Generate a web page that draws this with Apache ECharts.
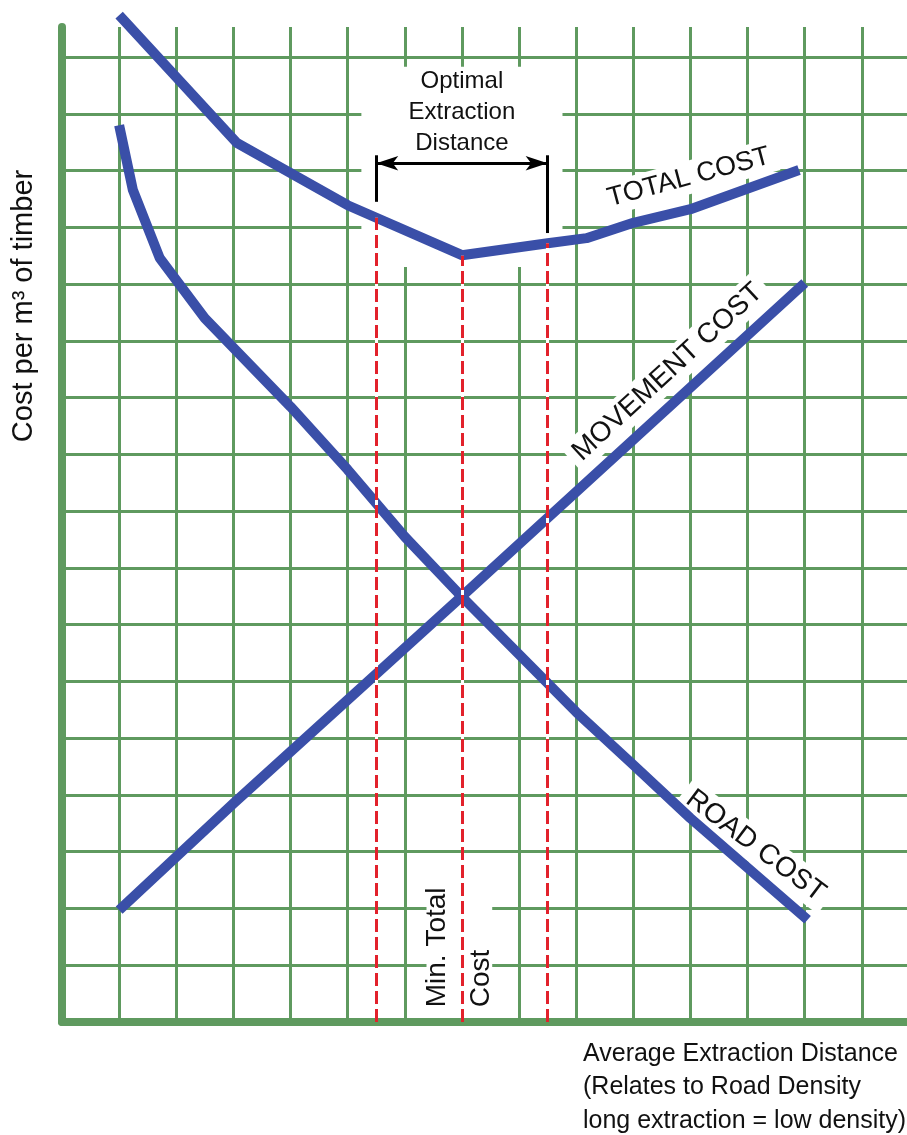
<!DOCTYPE html>
<html>
<head>
<meta charset="utf-8">
<title>Optimal extraction distance</title>
<script src="https://cdn.jsdelivr.net/npm/echarts@6/dist/echarts.min.js"></script>
<style>
  html, body { margin: 0; padding: 0; background: #fff; }
  #chart { width: 907px; height: 1135px; }
</style>
</head>
<body>
<div id="chart"></div>
<script>
// values, in grid squares (x = distance, y = cost)
const totalX = [1.0, 3.06, 5.0, 7.0, 8.5, 9.18, 10.0, 11.0, 12.9];
const totalY = [17.74, 15.49, 14.39, 13.51, 13.72, 13.81, 14.08, 14.32, 15.01];
const roadX = [1.0, 1.24, 1.71, 2.5, 4.0, 5.0, 6.0, 7.0, 9.0, 10.0, 11.0, 13.05];
const roadY = [15.8, 14.66, 13.46, 12.4, 10.84, 9.73, 8.55, 7.49, 5.46, 4.53, 3.59, 1.8];
const moveX = [1.0, 3.0, 7.0, 13.0];
const moveY = [1.97, 3.85, 7.5, 13.02];

// dashed guides: optimal range and minimum, up to the total cost curve
const guideX = [5.5, 7.0, 8.5];
const guideTop = [14.17, 13.5, 13.72];

// bracket over the optimal range
const bracketY = 15.13;
const bracketTop = 15.27;
const bracketBottom = [14.45, 13.9];

const notes = ['Optimal\nExtraction\nDistance', 'TOTAL COST', 'MOVEMENT COST', 'ROAD COST', 'Min. Total\nCost'];
const noteX = [7.0, 10.97, 10.6, 12.14, 6.96];
const noteY = [16.03, 14.88, 11.45, 3.1, 0.26];

const green = '#5f9a5f';
const blue = '#3a4fa8';
const red = '#e2212b';
const ink = '#111';
const font = '"Liberation Sans", Arial, Helvetica, sans-serif';

const pairs = (xs, ys) => xs.map((x, i) => [x, ys[i]]);

const noteStyle = [
  { fontSize: 24, lineHeight: 31, align: 'center', rotate: 0, backgroundColor: 'transparent', padding: 0 },
  { fontSize: 27, rotate: 15 },
  { fontSize: 28, rotate: 42.7 },
  { fontSize: 28, rotate: -37 },
  { fontSize: 28, lineHeight: 44, align: 'left', rotate: 90, backgroundColor: 'transparent', padding: 0 }
];

const axisCommon = {
  type: 'value',
  min: 0,
  interval: 1,
  axisLine: { show: true, onZero: false, lineStyle: { color: green, width: 8 } },
  axisTick: { show: false },
  axisLabel: { show: false },
  splitLine: { show: true, showMinLine: false, showMaxLine: false, lineStyle: { color: green, width: 3 } }
};

const chart = echarts.init(document.getElementById('chart'));

const option = {
  animation: false,
  backgroundColor: '#fff',
  grid: { left: 62, right: 0, top: 27, bottom: 113, containLabel: false },
  xAxis: Object.assign({}, axisCommon, { max: 14.79 }),
  yAxis: Object.assign({}, axisCommon, { max: 17.53 }),
  graphic: [
    {
      type: 'text', x: 24, y: 306, rotation: Math.PI / 2,
      style: {
        text: 'Cost per m³ of timber', font: '29px ' + font, fill: ink,
        align: 'center', verticalAlign: 'middle', textAlign: 'center', textVerticalAlign: 'middle'
      }
    },
    {
      type: 'text', x: 583, y: 1037,
      style: {
        text: 'Average Extraction Distance\n(Relates to Road Density\nlong extraction = low density)',
        font: '25px ' + font, fill: ink, lineHeight: 33.5,
        align: 'left', verticalAlign: 'top', textAlign: 'left', textVerticalAlign: 'top'
      }
    }
  ],
  series: [
    {
      // white patches behind the annotations
      name: 'paper', type: 'line', data: [], z: 1, silent: true,
      markArea: {
        silent: true,
        itemStyle: { color: '#fff', opacity: 1 },
        data: [
          [{ coord: [5.24, 13.3] }, { coord: [8.76, 16.83] }],
          [{ coord: [6.38, 0.14] }, { coord: [7.53, 2.68] }]
        ]
      },
      markLine: {
        silent: true, symbol: 'none', label: { show: false },
        lineStyle: { color: '#fff', width: 3, type: 'solid' },
        data: guideX.map((x, i) => [{ coord: [x, 0] }, { coord: [x, guideTop[i]] }])
      }
    },
    {
      name: 'notes', type: 'scatter', symbolSize: 0, z: 2, silent: true,
      itemStyle: { opacity: 1 },
      data: notes.map((t, i) => ({
        value: [noteX[i], noteY[i]],
        label: Object.assign({
          show: true, position: 'inside', formatter: t, opacity: 1,
          color: ink, fontFamily: font, align: 'center', verticalAlign: 'middle',
          backgroundColor: '#fff', padding: [3, 7]
        }, noteStyle[i])
      }))
    },
    {
      name: 'guides', type: 'line', data: [], z: 3, silent: true,
      markLine: {
        silent: true, symbol: 'none', label: { show: false },
        lineStyle: { color: red, width: 3, type: [13, 5] },
        data: guideX.map((x, i) => [{ coord: [x, 0] }, { coord: [x, guideTop[i]] }])
      }
    },
    {
      name: 'bracket', type: 'line', data: [], z: 3, silent: true,
      markLine: {
        silent: true, symbol: 'none', label: { show: false },
        lineStyle: { color: '#000', width: 3, type: 'solid' },
        data: [
          [{ coord: [guideX[0], bracketBottom[0]] }, { coord: [guideX[0], bracketTop] }],
          [{ coord: [guideX[2], bracketBottom[1]] }, { coord: [guideX[2], bracketTop] }],
          [
            { coord: [guideX[0], bracketY], symbol: 'arrow', symbolSize: [11, 22] },
            { coord: [guideX[2], bracketY], symbol: 'arrow', symbolSize: [11, 22] }
          ]
        ]
      }
    },
    {
      name: 'Road cost', type: 'line', data: pairs(roadX, roadY), z: 4,
      symbol: 'none', lineStyle: { color: blue, width: 10, join: 'round' }
    },
    {
      name: 'Movement cost', type: 'line', data: pairs(moveX, moveY), z: 4,
      symbol: 'none', lineStyle: { color: blue, width: 10, join: 'round' }
    },
    {
      name: 'Total cost', type: 'line', data: pairs(totalX, totalY), z: 4, clip: false,
      symbol: 'none', lineStyle: { color: blue, width: 10, join: 'round' }
    }
  ]
};

chart.setOption(option);
</script>
</body>
</html>
